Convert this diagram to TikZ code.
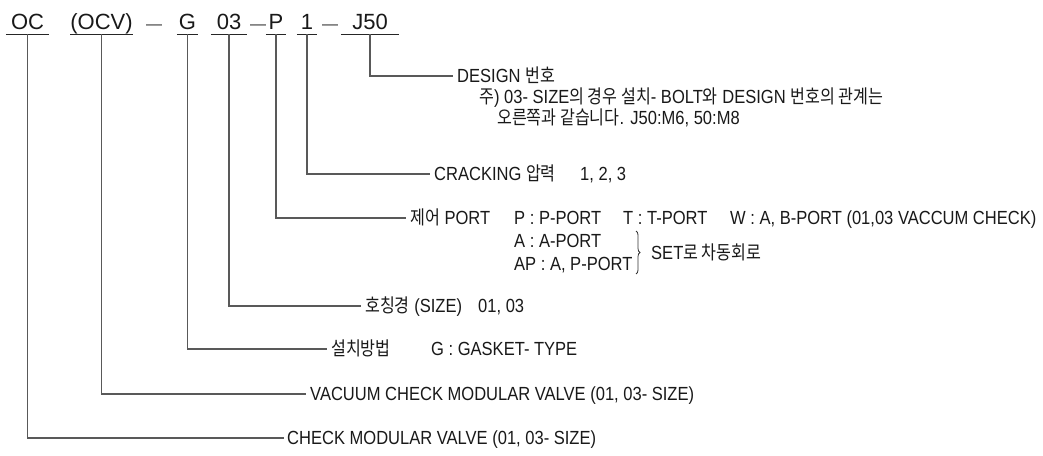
\documentclass[tikz,border=0pt]{standalone}
\usepackage{fontspec}
\setmainfont{Liberation Sans}
\newfontfamily\descfont[FakeStretch=0.87]{Liberation Sans}
\newfontfamily\krfont[FakeStretch=0.85]{Noto Sans CJK KR}
\newcommand\kor[1]{{\krfont #1}}
\usetikzlibrary{decorations.pathreplacing}
\begin{document}
\begin{tikzpicture}[x=1pt,y=-1pt,
  code/.style={font=\fontsize{22}{26}\selectfont, text=black!90, inner sep=0pt, text height=16pt, text depth=5pt, anchor=base},
  dsh/.style={font=\fontsize{16}{20}\selectfont, text=black!80, inner sep=0pt, anchor=base},
  lbl/.style={font=\descfont\fontsize{19}{22}\selectfont, text=black!90, inner sep=0pt, text height=13.5pt, text depth=0pt, anchor=west},
  conn/.style={draw=black!65, line width=1.2pt, shorten >=4pt},
  uline/.style={draw=black!85, line width=0.9pt},
  brc/.style={draw=black!80, line width=0.8pt, decorate, decoration={brace, amplitude=4pt}}
]
\useasboundingbox[fill=white] (0,0) rectangle (1043,455);

% code row
\node[code, minimum width=43pt] (oc)  at (27.5,29)  {OC};
\node[code, minimum width=61pt] (ocv) at (101.5,29) {(OCV)};
\node[dsh] (d1) at (154,29) {—};
\node[code, minimum width=21pt] (g)   at (187.5,29) {G};
\node[code, minimum width=36pt] (s03) at (229,29)   {03};
\node[dsh] (d2) at (258,29) {—};
\node[code, minimum width=20pt] (p)   at (276,29)   {P};
\node[code, minimum width=20pt] (one) at (307,29)   {1};
\node[dsh] (d3) at (330,29) {—};
\node[code, minimum width=58pt] (j50) at (370,29)   {J50};

\foreach \n in {oc,ocv,g,s03,p,one,j50}
  \draw[uline] (\n.south west) -- (\n.south east);

% labels
\node[lbl] (design) at (457,76) {DESIGN \kor{번호}};
\node[lbl] (note1) at (479,97) {\kor{주}) 03- SIZE\kor{의 경우 설치}- BOLT\kor{와} DESIGN \kor{번호의 관계는}};
\node[lbl] (note2) at (497,118) {\kor{오른쪽과 같습니다}. J50:M6, 50:M8};

\node[lbl] (crk) at (434,174) {CRACKING \kor{압력}};
\node[lbl] (crkv) at (580,174) {1, 2, 3};

\node[lbl] (port) at (410,218) {\kor{제어} PORT};
\node[lbl] (pp) at (514,218) {P : P-PORT};
\node[lbl] (tp) at (623,218) {T : T-PORT};
\node[lbl] (wp) at (730,218) {W : A, B-PORT (01,03 VACCUM CHECK)};
\node[lbl] (ap1) at (514,241) {A : A-PORT};
\node[lbl] (ap2) at (514,264) {AP : A, P-PORT};
\coordinate (bt) at (636,231);
\coordinate (bb) at (636,274);
\draw[brc] (bt) -- (bb);
\node[lbl] (set) at (651,252.5) {SET\kor{로 차동회로}};

\node[lbl] (sz) at (365,306) {\kor{호칭경} (SIZE)};
\node[lbl] (szv) at (478,306) {01, 03};

\node[lbl] (mt) at (331,349) {\kor{설치방법}};
\node[lbl] (mtv) at (431,349) {G : GASKET- TYPE};

\node[lbl] (vac) at (310,394) {VACUUM CHECK MODULAR VALVE (01, 03- SIZE)};
\node[lbl] (chk) at (287,438) {CHECK MODULAR VALVE (01, 03- SIZE)};

% connectors
\draw[conn] (j50.south) |- (design.west);
\draw[conn] (one.south) |- (crk.west);
\draw[conn] (p.south) |- (port.west);
\draw[conn] (s03.south) |- (sz.west);
\draw[conn] (g.south) |- (mt.west);
\draw[conn] (ocv.south) |- (vac.west);
\draw[conn, shorten >=3pt] (oc.south) |- (chk.west);
\end{tikzpicture}
\end{document}
